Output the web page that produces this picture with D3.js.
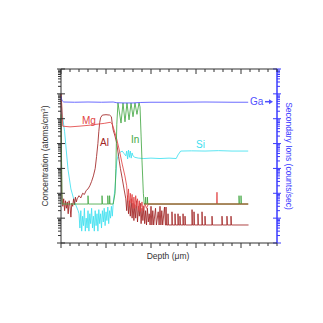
<!DOCTYPE html>
<html>
<head>
<meta charset="utf-8">
<script src="https://cdn.jsdelivr.net/npm/d3@7"></script>
<style>
  body { margin: 0; background: #fff; }
  text { font-family: "Liberation Sans", Arial, sans-serif; }
</style>
</head>
<body>
<div id="chart"></div>
<script>
// depth in µm, concentration in atoms/cm3, Ga in counts/sec
const depthMax = 2.4;
const concDomain = [1e15, 1e22];
const ionDomain = [1, 1e7];

const gaIons = [[0, 8e5], [0.01, 5.5e5], [0.03, 4.7e5], [0.15, 4.6e5], [0.3, 4.7e5], [0.45, 4.6e5],
  [0.58, 4.7e5], [0.62, 4.4e5], [0.7, 4.3e5], [0.8, 4.3e5], [0.88, 4.5e5], [1.0, 4.6e5],
  [1.3, 4.6e5], [1.6, 4.7e5], [1.9, 4.6e5], [2.08, 4.6e5]];

const mgConc = [[0, 1e21], [0.01, 3e20], [0.02, 5e19], [0.1, 4.7e19], [0.2, 5e19], [0.3, 5.4e19],
  [0.4, 6e19], [0.48, 6.5e19], [0.55, 7.2e19], [0.57, 6e19], [0.59, 3.5e19], [0.62, 1.5e19],
  [0.65, 5e18], [0.68, 1.5e18], [0.71, 5e17], [0.73, 2e17], [0.74, 5e16], [0.75, 1.5e17],
  [0.76, 3e16], [0.77, 1e17], [0.78, 4e16], [0.79, 9e16], [0.8, 2.5e16], [0.81, 7e16],
  [0.82, 2.5e16], [0.83, 8e16], [0.84, 3e16], [0.85, 6e16], [0.86, 2e16], [0.87, 5e16],
  [0.88, 1.8e16], [0.9, 4.5e16], [0.91, 2e16], [0.93, 4e16], [0.95, 2.5e16], [0.97, 3.7e16],
  [1.73, 3.7e16], [1.733, 1.1e17], [1.736, 3.7e16], [2.08, 3.7e16]];

const alConc = [[0, 1e21], [0.008, 1e17], [0.02, 3e16], [0.03, 6e16], [0.04, 2e16], [0.05, 5e16],
  [0.06, 2.5e16], [0.07, 4.5e16], [0.08, 1.5e16], [0.09, 5e16], [0.1, 3e16], [0.11, 1.1e16],
  [0.12, 4e16], [0.13, 3e16], [0.14, 6e16], [0.15, 3.5e16], [0.16, 7e16], [0.17, 4.5e16],
  [0.18, 6e16], [0.2, 8e16], [0.22, 6.5e16], [0.24, 1e17], [0.26, 9e16], [0.28, 1.3e17],
  [0.3, 1.5e17], [0.32, 2e17], [0.34, 3e17], [0.36, 5e17], [0.38, 1e18], [0.395, 3e18],
  [0.41, 1e19], [0.42, 3e19], [0.43, 7e19], [0.44, 1.1e20], [0.46, 1.4e20], [0.5, 1.45e20],
  [0.54, 1.4e20], [0.56, 1.2e20], [0.57, 6e19], [0.58, 3.5e19], [0.6, 2e19], [0.62, 1e19],
  [0.64, 3e18], [0.66, 1e18], [0.68, 4e17], [0.7, 1.5e17], [0.72, 6e16], [0.73, 2e16],
  [0.74, 8e16], [0.75, 1.5e16], [0.76, 5e16], [0.77, 1.2e16], [0.78, 6e16], [0.79, 1e16],
  [0.8, 4e16], [0.81, 8e15], [0.82, 3.5e16], [0.83, 1e16], [0.84, 5e16], [0.85, 7e15],
  [0.86, 3e16], [0.87, 1.2e16], [0.88, 4e16], [0.89, 6e15], [0.9, 2.5e16], [0.91, 8e15],
  [0.92, 3e16], [0.93, 6e15], [0.94, 2e16], [0.95, 5.3e15], [0.96, 2.5e16], [0.97, 7e15],
  [0.98, 1.5e16], [0.99, 5.3e15], [1.0, 3e16], [1.01, 5.3e15], [1.02, 2e16], [1.03, 5.3e15],
  [1.05, 2.5e16], [1.06, 5.3e15], [1.08, 1.8e16], [1.09, 5.3e15], [1.1, 3e16], [1.11, 5.3e15],
  [1.12, 2e16], [1.13, 5.3e15], [1.15, 2.8e16], [1.16, 5.3e15]];
// isolated Al spikes above the background floor
const alFloor = 5.3e15;
const alSpikes = [[1.167, 2.8e16], [1.189, 1.5e16], [1.233, 1.8e16], [1.267, 1.5e16], [1.3, 1.5e16],
  [1.322, 1.2e16], [1.356, 1.5e16], [1.378, 1.2e16], [1.456, 2.2e16], [1.478, 1.8e16],
  [1.522, 1.5e16], [1.567, 1.8e16], [1.6, 1.2e16], [1.678, 1.2e16], [1.789, 1.2e16],
  [1.844, 1.2e16], [1.889, 1.2e16], [2.08, alFloor]];

const inConc = [[0, 1.5e20], [0.012, 3.7e16],
  [0.3, 3.7e16], [0.3, 8e16], [0.304, 3.7e16],
  [0.456, 3.7e16], [0.456, 8e16], [0.46, 3.7e16],
  [0.52, 3.7e16], [0.52, 8e16], [0.524, 3.7e16],
  [0.54, 3.7e16], [0.54, 8e16], [0.544, 3.7e16],
  [0.58, 3.7e16], [0.6, 1e17], [0.61, 1e18], [0.615, 1e19], [0.62, 6e19], [0.633, 4.3e20],
  [0.667, 6.7e19], [0.689, 4.3e20], [0.711, 7.5e19], [0.733, 4.3e20], [0.756, 9e19],
  [0.778, 4.3e20], [0.8, 1.2e20], [0.822, 4.3e20], [0.844, 1.5e20], [0.867, 4.3e20],
  [0.878, 3e20], [0.89, 2e19], [0.9, 2e18], [0.915, 1e17], [0.925, 3.7e16],
  [0.94, 3.7e16], [0.94, 7e16], [0.944, 3.7e16], [0.96, 3.7e16], [0.96, 7e16], [0.964, 3.7e16],
  [1.978, 3.7e16], [1.978, 8e16], [1.982, 3.7e16], [2.0, 3.7e16], [2.0, 8e16], [2.004, 3.7e16],
  [2.08, 3.7e16]];

const siConc = [[0, 6e20], [0.01, 2e20], [0.04, 3e19], [0.078, 9e17], [0.11, 1.5e17], [0.15, 4.5e16],
  [0.19, 2e16], [0.2, 1.5e16], [0.21, 4e15], [0.22, 2e16], [0.23, 3e15], [0.24, 1.2e16],
  [0.25, 5e15], [0.26, 2.5e16], [0.27, 3e15], [0.28, 1e16], [0.29, 4e15], [0.3, 2e16],
  [0.31, 3e15], [0.32, 1.5e16], [0.33, 6e15], [0.34, 2.5e16], [0.35, 4e15], [0.36, 1.2e16],
  [0.37, 3e15], [0.38, 2e16], [0.39, 5e15], [0.4, 1.5e16], [0.41, 3e15], [0.42, 2.2e16],
  [0.43, 6e15], [0.44, 1.5e16], [0.45, 4e15], [0.46, 2e16], [0.47, 7e15], [0.48, 2.5e16],
  [0.49, 5e15], [0.5, 1.8e16], [0.51, 8e15], [0.52, 2.8e16], [0.53, 6e15], [0.54, 2e16],
  [0.55, 1e16], [0.56, 3e16], [0.57, 1.2e16], [0.58, 4e16], [0.6, 1.5e17], [0.62, 2e18],
  [0.64, 4e18], [0.66, 4.5e18], [0.68, 5e18], [0.7, 4e18], [0.72, 3.2e18], [0.73, 5e18],
  [0.74, 2.4e18], [0.75, 5.5e18], [0.76, 2.8e18], [0.77, 5e18], [0.78, 2.6e18], [0.79, 4.2e18],
  [0.8, 3.2e18], [0.82, 2.8e18], [0.86, 2.6e18], [0.92, 2.5e18], [1.0, 2.6e18], [1.1, 2.5e18],
  [1.2, 2.6e18], [1.28, 2.5e18], [1.3, 3.5e18], [1.33, 5e18], [1.45, 5.1e18], [1.6, 5e18],
  [1.75, 5.2e18], [1.9, 5e18], [2.08, 5e18]];

// flat detection-limit line where Mg and In overlap
const floorLevel = [[0.93, 3.7e16], [2.08, 3.7e16]];

// series labels, placed in data coordinates
const labels = [
  {text: "Mg", depth: 0.233, value: 6.2e19, color: "#e24444", axis: "conc"},
  {text: "Al", depth: 0.433, value: 7.9e18, color: "#a02424", axis: "conc"},
  {text: "In", depth: 0.778, value: 1.05e19, color: "#44a844", axis: "conc"},
  {text: "Si", depth: 1.5, value: 6.6e18, color: "#40e0f0", axis: "conc"},
  {text: "Ga", depth: 2.1, value: 3.5e5, color: "#5050ff", axis: "ions"}
];

const width = 323, height = 323;
const margin = {top: 69, right: 46, bottom: 80, left: 61};
const iw = width - margin.left - margin.right;
const ih = height - margin.top - margin.bottom;

const svg = d3.select("#chart").append("svg")
    .attr("width", width)
    .attr("height", height);
const g = svg.append("g")
    .attr("transform", "translate(" + margin.left + "," + margin.top + ")");

const x = d3.scaleLinear().domain([0, depthMax]).range([0, iw]);
const yC = d3.scaleLog().domain(concDomain).range([ih, 0]);
const yI = d3.scaleLog().domain(ionDomain).range([ih, 0]);

const lineC = d3.line().x(d => x(d[0])).y(d => yC(d[1]));
const lineI = d3.line().x(d => x(d[0])).y(d => yI(d[1]));

// Al tail: floor with thin spikes
const alTail = [];
alSpikes.forEach(s => {
    alTail.push([s[0], alFloor], [s[0], s[1]], [s[0] + 0.004, alFloor]);
});
const alAll = alConc.concat(alTail);

function drawLine(data, color, fn) {
    g.append("path")
        .datum(data)
        .attr("fill", "none")
        .attr("stroke", color)
        .attr("stroke-width", 0.85)
        .attr("stroke-linejoin", "round")
        .attr("d", fn || lineC);
}

drawLine(siConc, "#40e0f0");
drawLine(alAll, "#a02424");
drawLine(mgConc, "#e24444");
drawLine(inConc, "#44a844");
drawLine(floorLevel, "#a85a30");
drawLine(gaIons, "#5050ff", lineI);

// labels
labels.forEach(l => {
    const ly = l.axis === "ions" ? yI(l.value) : yC(l.value);
    g.append("text")
        .attr("x", x(l.depth))
        .attr("y", ly)
        .attr("fill", l.color)
        .style("font-size", "10px")
        .text(l.text);
    if (l.axis === "ions") {
        // small arrow pointing to the right axis
        const ax = x(l.depth) + 15, ay = ly - 3.5;
        g.append("path")
            .attr("d", "M" + ax + "," + ay + "h5")
            .attr("stroke", l.color).attr("stroke-width", 1.5);
        g.append("path")
            .attr("d", "M" + (ax + 4) + "," + (ay - 2.5) + "l4,2.5l-4,2.5z")
            .attr("fill", l.color);
    }
});

// frame and ticks
const axisColor = "#333";
const isMajor = v => Math.abs(Math.log10(v) - Math.round(Math.log10(v))) < 1e-9;

// left axis (concentration)
g.append("line").attr("x1", 0).attr("x2", 0).attr("y1", 0).attr("y2", ih)
    .attr("stroke", axisColor);
g.append("g").selectAll("line")
    .data(yC.ticks())
    .join("line")
    .attr("x1", d => isMajor(d) ? -4 : -3)
    .attr("x2", d => isMajor(d) ? 4 : 0)
    .attr("y1", d => yC(d)).attr("y2", d => yC(d))
    .attr("stroke", axisColor);

// right axis (secondary ions)
g.append("line").attr("x1", iw).attr("x2", iw).attr("y1", 0).attr("y2", ih)
    .attr("stroke", "#3b3bff").attr("stroke-width", 1.5);
g.append("g").selectAll("line")
    .data(yI.ticks())
    .join("line")
    .attr("x1", d => isMajor(d) ? iw - 4 : iw)
    .attr("x2", d => isMajor(d) ? iw + 4 : iw + 3)
    .attr("y1", d => yI(d)).attr("y2", d => yI(d))
    .attr("stroke", "#3b3bff");

// top and bottom axes (depth)
const depthTicks = x.ticks(24);
const isMajorX = d => Math.abs(d * 2 - Math.round(d * 2)) < 1e-9;
g.append("line").attr("x1", 0).attr("x2", iw).attr("y1", 0).attr("y2", 0)
    .attr("stroke", axisColor);
g.append("line").attr("x1", 0).attr("x2", iw).attr("y1", ih).attr("y2", ih)
    .attr("stroke", axisColor);
g.append("g").selectAll("line")
    .data(depthTicks)
    .join("line")
    .attr("x1", d => x(d)).attr("x2", d => x(d))
    .attr("y1", 0).attr("y2", d => isMajorX(d) ? 5 : 3)
    .attr("stroke", axisColor);
g.append("g").selectAll("line")
    .data(depthTicks)
    .join("line")
    .attr("x1", d => x(d)).attr("x2", d => x(d))
    .attr("y1", ih).attr("y2", d => isMajorX(d) ? ih + 5 : ih + 3)
    .attr("stroke", axisColor);

// axis titles
const leftTitle = svg.append("text")
    .attr("transform", "translate(48," + (margin.top + ih / 2) + ") rotate(-90)")
    .attr("text-anchor", "middle")
    .attr("fill", "#333")
    .style("font-size", "8.5px");
leftTitle.append("tspan").text("Concentration (atoms/cm");
leftTitle.append("tspan").attr("dy", -3).style("font-size", "6px").text("3");
leftTitle.append("tspan").attr("dy", 3).text(")");

svg.append("text")
    .attr("transform", "translate(286," + (margin.top + ih / 2) + ") rotate(90)")
    .attr("text-anchor", "middle")
    .attr("fill", "#3b3bff")
    .style("font-size", "8.5px")
    .text("Secondary Ions (counts/sec)");

svg.append("text")
    .attr("x", margin.left + iw / 2 - 1)
    .attr("y", 259)
    .attr("text-anchor", "middle")
    .attr("fill", "#333")
    .style("font-size", "8.5px")
    .text("Depth (\u03bcm)");
</script>
</body>
</html>
